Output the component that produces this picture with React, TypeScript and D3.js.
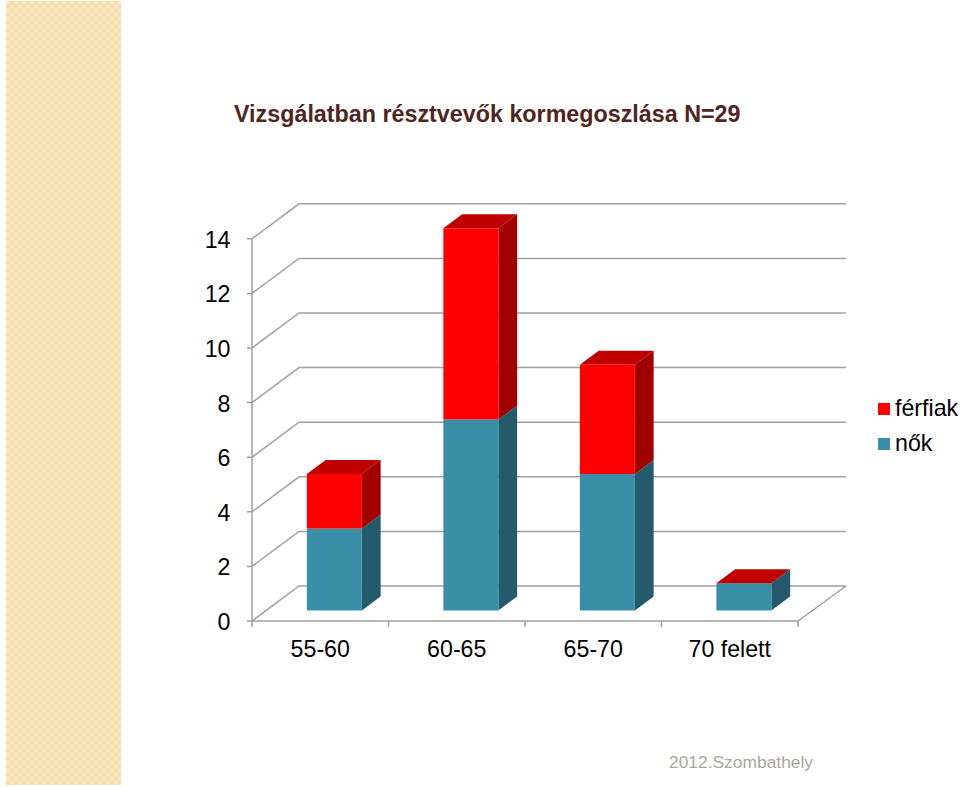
import React from "react";
import * as d3 from "d3";

const categories = ["55-60", "60-65", "65-70", "70 felett"];
const nok = [3, 7, 5, 1];
const ferfiak = [2, 7, 4, 0];
const yTicks = [0, 2, 4, 6, 8, 10, 12, 14];
const seriesNames = ["férfiak", "nők"];

const FONT = "'Liberation Sans', Arial, sans-serif";
const GRID = "#a0a0a0";
const RED = "#ff0000", RED_TOP = "#c00000", RED_SIDE = "#a00000";
const TEAL = "#3a8fa8", TEAL_SIDE = "#255a6c";

const x = d3.scaleBand<string>().domain(categories).range([252, 798]);
const y = d3.scaleLinear().domain([0, 14]).range([621, 238.8]);
const DX = 47, DY = -35;
const fx = 0.3, bx = 0.7;
const BAR = 55;

const poly = (pts: number[][]) => d3.line()(pts as [number, number][]) + "Z";

function Box({ x0, v0, v1, color, side, top }: any) {
  const px = x0 + DX * fx;
  const y0 = y(v0) + DY * fx, y1 = y(v1) + DY * fx;
  const ox = DX * (bx - fx), oy = DY * (bx - fx);
  return (
    <g>
      <path d={poly([[px + BAR, y0], [px + BAR + ox, y0 + oy], [px + BAR + ox, y1 + oy], [px + BAR, y1]])} fill={side} />
      {top && <path d={poly([[px, y1], [px + ox, y1 + oy], [px + BAR + ox, y1 + oy], [px + BAR, y1]])} fill={top} />}
      <rect x={px} y={y1} width={BAR} height={y0 - y1} fill={color} />
    </g>
  );
}

export default function App() {
  return (
    <svg width={960} height={787} style={{ position: "absolute", left: 0, top: 0, background: "#fff" }}>
      <defs>
        <pattern id="tile" width={8} height={8} patternUnits="userSpaceOnUse" x={6} y={1}>
          <rect width={8} height={8} fill="#f7e0b0" />
          <circle cx={2} cy={2} r={1.7} fill="#fbebc8" />
          <circle cx={6} cy={6} r={1.7} fill="#fbebc8" />
          <circle cx={6} cy={2} r={1.2} fill="#f3daa4" />
          <circle cx={2} cy={6} r={1.2} fill="#f3daa4" />
        </pattern>
      </defs>
      <rect x={6} y={1} width={115} height={784} fill="url(#tile)" />

      <text x={234} y={122} fontFamily={FONT} fontWeight="bold" fontSize={23.3} fill="#4f2520">
        Vizsgálatban résztvevők kormegoszlása N=29
      </text>

      <g fill="none" stroke={GRID} strokeWidth={1.5}>
        {yTicks.map((t) => (
          <path key={t} d={d3.line()([[247, y(t)], [252, y(t)], [252 + DX, y(t) + DY], [846, y(t) + DY]] as [number, number][])!} />
        ))}
        <path d={`M252,${y(14)}V${y(0)}`} />
        <path d={`M252,621H798L846,586`} />
        {[...categories.map((c) => x(c)!), 798].map((v) => (
          <path key={v} d={`M${v},621V627`} />
        ))}
      </g>

      {categories.map((c, i) => (
        <g key={c}>
          <Box x0={x(c)! + (x.bandwidth() - BAR) / 2} v0={0} v1={nok[i]} color={TEAL} side={TEAL_SIDE} />
          <Box x0={x(c)! + (x.bandwidth() - BAR) / 2} v0={nok[i]} v1={nok[i] + ferfiak[i]} color={ferfiak[i] > 0 ? RED : TEAL} side={RED_SIDE} top={RED_TOP} />
        </g>
      ))}

      <g fontFamily={FONT} fontSize={23.2} fill="#000">
        {yTicks.map((t) => (
          <text key={t} x={230.5} y={y(t) + 9} textAnchor="end">{t}</text>
        ))}
        {categories.map((c) => (
          <text key={c} x={x(c)! + x.bandwidth() / 2} y={657} textAnchor="middle">{c}</text>
        ))}
        {seriesNames.map((s, i) => (
          <g key={s}>
            <rect x={878} y={403 + i * 35} width={12} height={12} fill={i === 0 ? RED : TEAL} />
            <text x={895} y={416 + i * 35}>{s}</text>
          </g>
        ))}
      </g>
      <text x={669} y={768} fontFamily={FONT} fontSize={17.4} fill="#a9a698">2012.Szombathely</text>
    </svg>
  );
}
